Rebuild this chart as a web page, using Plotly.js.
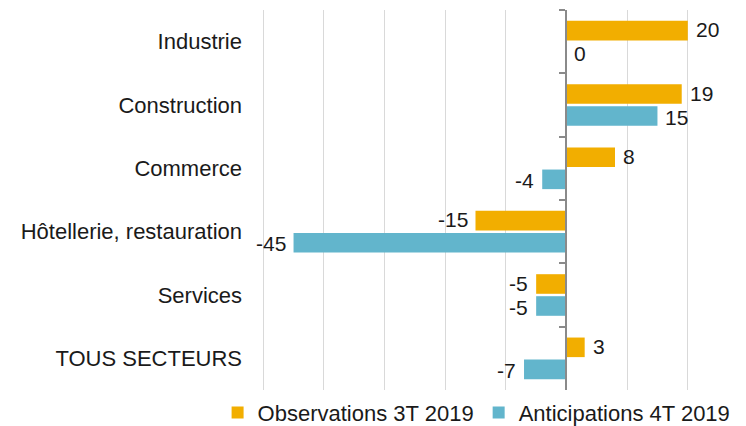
<!DOCTYPE html>
<html>
<head>
<meta charset="utf-8">
<script src="https://cdn.plot.ly/plotly-3.0.1.min.js"></script>
<style>html,body{margin:0;padding:0;background:#fff;}#chart{width:746px;height:426px;}</style>
</head>
<body>
<div id="chart"></div>
<script>
const categories = ["Industrie", "Construction", "Commerce", "Hôtellerie, restauration", "Services", "TOUS SECTEURS"];
const observations = [20, 19, 8, -15, -5, 3];
const anticipations = [0, 15, -4, -45, -5, -7];
const seriesNames = ["Observations 3T 2019", "Anticipations 4T 2019"];
const xTicks = [-50, -40, -30, -20, -10, 0, 10, 20];

const ORANGE = "#F2AE00";
const BLUE = "#62B5CC";
const FONT = "Liberation Sans, Arial, sans-serif";
const TXT = "#1a1a1a";
const FS = 22;

const traces = [
  {type: "bar", orientation: "h", name: seriesNames[0], x: observations, y: categories,
   marker: {color: ORANGE}, hoverinfo: "x+y"},
  {type: "bar", orientation: "h", name: seriesNames[1], x: anticipations, y: categories,
   marker: {color: BLUE}, hoverinfo: "x+y"},
  {type: "scatter", mode: "markers", x: categories.map(() => 0), y: categories, yaxis: "y2",
   marker: {opacity: 0}, showlegend: false, hoverinfo: "skip"}
];

const annotations = [];
function addLabels(vals, shiftY) {
  vals.forEach((v, i) => {
    annotations.push({
      x: v, y: categories[i], xref: "x", yref: "y",
      text: String(v), showarrow: false,
      xanchor: v >= 0 ? "left" : "right",
      xshift: v >= 0 ? 7 : -7,
      yshift: shiftY, borderpad: 0,
      font: {family: FONT, size: 21, color: TXT}
    });
  });
}
addLabels(observations, 12);
addLabels(anticipations, -12);

const layout = {
  width: 746, height: 426,
  margin: {l: 262, r: 57, t: 10, b: 36, pad: 0, autoexpand: false},
  paper_bgcolor: "#fff", plot_bgcolor: "#fff",
  font: {family: FONT, size: FS, color: TXT},
  barmode: "group", bargap: 0.305, bargroupgap: 0.11,
  xaxis: {
    range: [-50.2, 20.2], tickvals: xTicks, showticklabels: false,
    showgrid: true, gridcolor: "#d9d9d9", gridwidth: 1,
    zeroline: false, showline: false, ticks: "", fixedrange: true
  },
  yaxis: {
    type: "category", categoryarray: categories, categoryorder: "array",
    range: [5.5, -0.5], showgrid: false, zeroline: false, showline: false,
    ticks: "", ticklabelstandoff: 19,
    tickfont: {family: FONT, size: FS, color: TXT}
  },
  yaxis2: {
    type: "category", categoryarray: categories, categoryorder: "array",
    range: [5.5, -0.5], overlaying: "y", anchor: "free", position: 50.2 / 70.4, side: "left",
    showline: true, linecolor: "#8a8a8a", linewidth: 2,
    ticks: "outside", tickson: "boundaries", ticklen: 6, tickwidth: 2, tickcolor: "#8a8a8a",
    showticklabels: false, showgrid: false, zeroline: false
  },
  showlegend: true,
  legend: {
    orientation: "h", x: -0.104, xanchor: "left", y: -0.06, yanchor: "middle",
    font: {family: FONT, size: FS, color: TXT}, traceorder: "normal",
    itemwidth: 30, bgcolor: "rgba(0,0,0,0)"
  },
  annotations: annotations
};

Plotly.newPlot("chart", traces, layout, {displayModeBar: false, staticPlot: true});
</script>
</body>
</html>
